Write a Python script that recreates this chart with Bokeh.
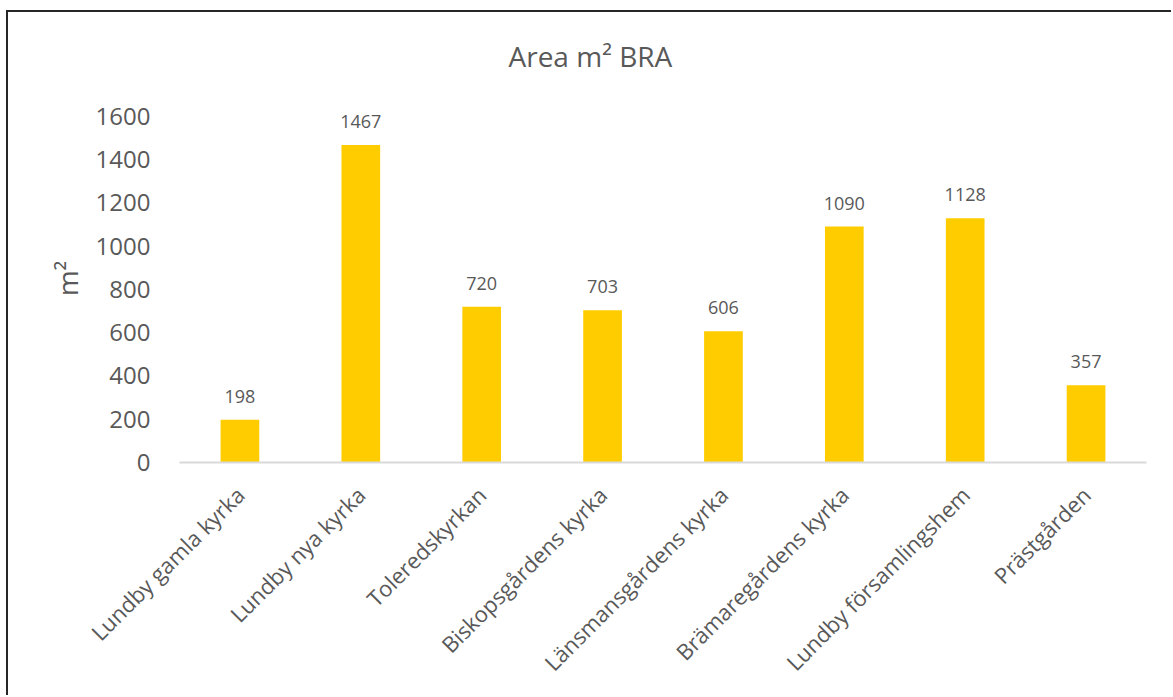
from bokeh.plotting import figure
from bokeh.models import ColumnDataSource, LabelSet, FixedTicker, Range1d, FactorRange
from bokeh.core.properties import value
from bokeh.embed import file_html
from bokeh.resources import INLINE
import math

categories = ["Lundby gamla kyrka", "Lundby nya kyrka", "Toleredskyrkan",
              "Biskopsgårdens kyrka", "Länsmansgårdens kyrka", "Brämaregårdens kyrka",
              "Lundby församlingshem", "Prästgården"]
values = [198, 1467, 720, 703, 606, 1090, 1128, 357]
y_ticks = [0, 200, 400, 600, 800, 1000, 1200, 1400, 1600]

FONT = "Open Sans"
GREY = "#595959"

src = ColumnDataSource(dict(cat=categories, val=values, lab=[str(v) for v in values]))

p = figure(x_range=FactorRange(*categories), y_range=Range1d(0, 1700),
           width=1165, height=685, output_backend="svg", toolbar_location=None,
           min_border_left=171, min_border_right=27, min_border_top=82, min_border_bottom=235)
p.styles = {"border-left": "2px solid #262626", "border-top": "2px solid #262626",
            "margin-left": "6px", "margin-top": "10px"}

p.vbar(x="cat", top="val", width=0.32, source=src, fill_color="#FFCC00", line_color=None)

labels = LabelSet(x="cat", y="val", text="lab", source=src, text_align="center",
                  text_baseline="alphabetic", y_offset=17, text_font=value(FONT),
                  text_font_size=value("18px"), text_color=GREY)
p.add_layout(labels)

p.title.text = "Area m² BRA"
p.title.text_font = FONT
p.title.text_font_size = "28px"
p.title.text_font_style = "normal"
p.title.text_color = GREY
p.title.align = "left"
p.title.offset = 329
p.title.standoff = 40

p.xgrid.grid_line_color = None
p.ygrid.grid_line_color = None
p.outline_line_color = None

p.yaxis.ticker = FixedTicker(ticks=y_ticks)
p.yaxis.axis_line_color = None
p.yaxis.major_tick_line_color = None
p.yaxis.minor_tick_line_color = None
p.yaxis.major_label_text_font = FONT
p.yaxis.major_label_text_font_size = "24px"
p.yaxis.major_label_text_color = GREY
p.yaxis.major_label_standoff = 23
p.yaxis.axis_label = "m²"
p.yaxis.axis_label_text_font = FONT
p.yaxis.axis_label_text_font_size = "28px"
p.yaxis.axis_label_text_font_style = "normal"
p.yaxis.axis_label_text_color = GREY
p.yaxis.axis_label_standoff = 7

p.xaxis.axis_line_color = "#D9D9D9"
p.xaxis.axis_line_width = 2
p.xaxis.major_tick_line_color = None
p.xaxis.minor_tick_line_color = None
p.xaxis.major_label_orientation = math.pi / 4
p.xaxis.major_label_text_font = FONT
p.xaxis.major_label_text_font_size = "22px"
p.xaxis.major_label_text_color = GREY
p.xaxis.major_label_standoff = 22

open("out.html", "w").write(file_html(p, INLINE))
